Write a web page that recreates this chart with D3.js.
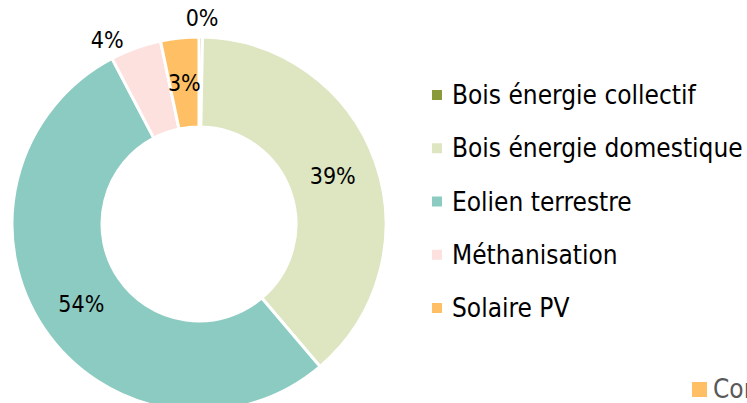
<!DOCTYPE html>
<html lang="fr">
<head>
    <meta charset="UTF-8">
    <style>
        body { margin: 0; background: #fff; }
        svg { display: block; font-family: "DejaVu Sans Condensed", "DejaVu Sans", sans-serif; }
    </style>
</head>
<body>
    <svg width="747" height="403"></svg>
    <script src="https://d3js.org/d3.v7.min.js"></script>
    <script>
        // données (parts en %)
        const categories = ["Bois énergie collectif", "Bois énergie domestique", "Eolien terrestre", "Méthanisation", "Solaire PV"];
        const values = [0.3, 38.5, 53.5, 4.4, 3.3];
        const colors = ["#8a9a3a", "#dde6c1", "#8ccbc1", "#fde1df", "#ffc065"];
        const labelOutside = [true, false, false, true, false];
        const otherLegend = ["Consommation"];

        const svg = d3.select("svg");
        const cx = 199, cy = 224, rOut = 187, rIn = 97;

        const pie = d3.pie().sort(null).value(d => d.v);
        const arcs = pie(categories.map((c, i) => ({ c: c, v: values[i], i: i })));

        const arc = d3.arc().innerRadius(rIn).outerRadius(rOut);
        const mid = d3.arc().innerRadius((rIn + rOut) / 2).outerRadius((rIn + rOut) / 2);

        const g = svg.append("g").attr("transform", `translate(${cx},${cy})`);

        g.selectAll("path")
            .data(arcs)
            .enter()
            .append("path")
            .attr("d", arc)
            .attr("fill", d => colors[d.data.i])
            .attr("stroke", "#fff")
            .attr("stroke-width", 3);

        // étiquettes : dans l'anneau, ou à l'extérieur au début de la part
        g.selectAll("text")
            .data(arcs)
            .enter()
            .append("text")
            .attr("transform", d => {
                if (labelOutside[d.data.i]) {
                    const a = d.startAngle + 0.015, r = 203;
                    return `translate(${r * Math.sin(a)},${-r * Math.cos(a) - 3})`;
                }
                return `translate(${mid.centroid(d)})`;
            })
            .attr("text-anchor", "middle")
            .attr("dy", "0.35em")
            .attr("font-size", 23)
            .attr("fill", "#000")
            .text(d => Math.round(d.data.v) + "%");

        // légende
        const y = d3.scalePoint().domain(categories).range([95, 308]);
        const leg = svg.append("g").selectAll("g")
            .data(categories)
            .enter()
            .append("g")
            .attr("transform", d => `translate(432,${y(d)})`);
        leg.append("rect")
            .attr("x", 0).attr("y", -5)
            .attr("width", 10).attr("height", 10)
            .attr("fill", (d, i) => colors[i]);
        leg.append("text")
            .attr("x", 20)
            .attr("dy", "0.35em")
            .attr("font-size", 26)
            .attr("fill", "#000")
            .text(d => d);

        // légende d'un autre graphique, coupée à droite comme dans l'original
        const leg2 = svg.append("g").attr("transform", "translate(692,389)");
        leg2.append("rect")
            .attr("x", 0).attr("y", -7)
            .attr("width", 15).attr("height", 15)
            .attr("fill", colors[4]);
        leg2.append("text")
            .attr("x", 21)
            .attr("dy", "0.35em")
            .attr("font-size", 26)
            .attr("fill", "#595959")
            .text(otherLegend[0]);
    </script>
</body>
</html>
